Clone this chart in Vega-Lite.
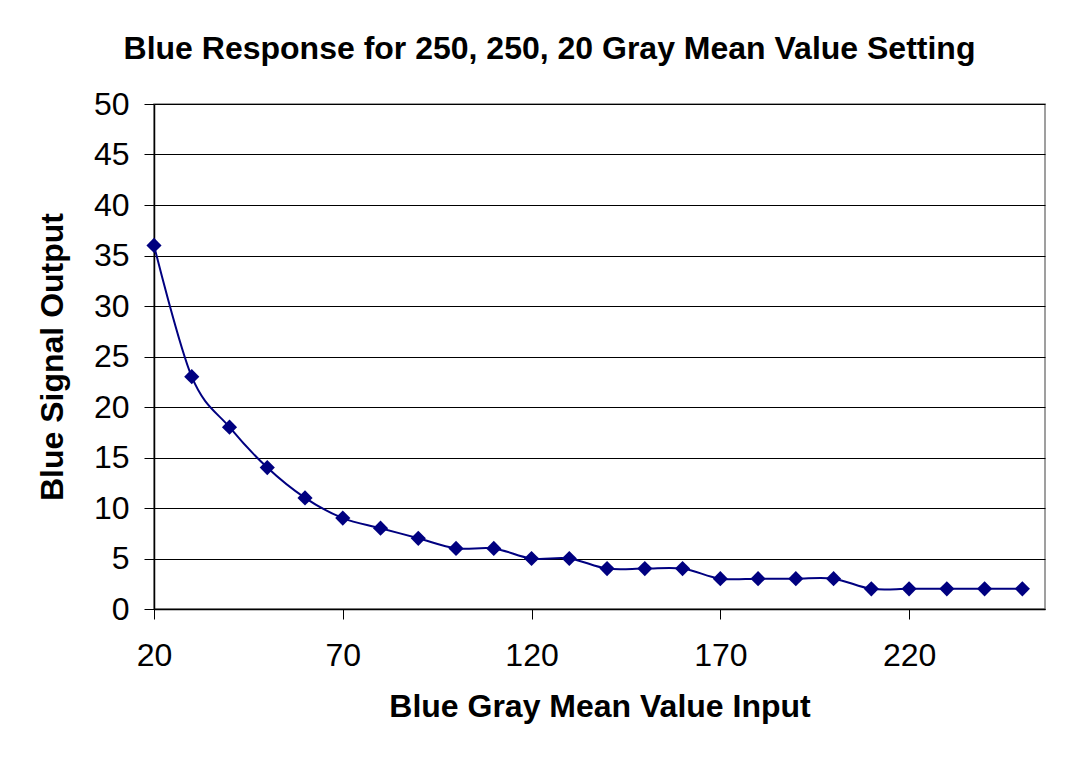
{
  "$schema": "https://vega.github.io/schema/vega-lite/v6.json",
  "width": 891,
  "height": 505,
  "autosize": {"type": "none"},
  "padding": {"left": 154, "top": 104, "right": 41, "bottom": 162},
  "background": "white",
  "config": {
    "font": "Liberation Sans",
    "view": {"stroke": "#808080", "strokeWidth": 1.5}
  },
  "title": {
    "text": "Blue Response for 250, 250, 20 Gray Mean Value Setting",
    "font": "Liberation Sans",
    "fontSize": 32,
    "fontWeight": "bold",
    "color": "black",
    "anchor": "middle",
    "frame": "group",
    "dx": -50,
    "offset": 22
  },
  "data": {
    "values": [
      {"input": 20, "output": 36},
      {"input": 30, "output": 23},
      {"input": 40, "output": 18},
      {"input": 50, "output": 14},
      {"input": 60, "output": 11},
      {"input": 70, "output": 9},
      {"input": 80, "output": 8},
      {"input": 90, "output": 7},
      {"input": 100, "output": 6},
      {"input": 110, "output": 6},
      {"input": 120, "output": 5},
      {"input": 130, "output": 5},
      {"input": 140, "output": 4},
      {"input": 150, "output": 4},
      {"input": 160, "output": 4},
      {"input": 170, "output": 3},
      {"input": 180, "output": 3},
      {"input": 190, "output": 3},
      {"input": 200, "output": 3},
      {"input": 210, "output": 2},
      {"input": 220, "output": 2},
      {"input": 230, "output": 2},
      {"input": 240, "output": 2},
      {"input": 250, "output": 2}
    ]
  },
  "encoding": {
    "x": {
      "field": "input",
      "type": "quantitative",
      "scale": {"domain": [20, 256], "nice": false, "zero": false},
      "axis": {
        "title": "Blue Gray Mean Value Input",
        "values": [20, 70, 120, 170, 220],
        "grid": false,
        "domainColor": "black",
        "domainWidth": 1.5,
        "tickColor": "black",
        "tickSize": 10,
        "labelFontSize": 32,
        "labelColor": "black",
        "labelPadding": 21,
        "labelFlush": false,
        "titleFontSize": 32,
        "titleFontWeight": "bold",
        "titleColor": "black",
        "titlePadding": 20
      }
    },
    "y": {
      "field": "output",
      "type": "quantitative",
      "scale": {"domain": [0, 50], "nice": false},
      "axis": {
        "title": "Blue Signal Output",
        "values": [0, 5, 10, 15, 20, 25, 30, 35, 40, 45, 50],
        "grid": true,
        "gridColor": "black",
        "gridOpacity": 1,
        "gridWidth": 1,
        "domainColor": "black",
        "domainWidth": 1.5,
        "tickColor": "black",
        "tickSize": 10,
        "labelFontSize": 32,
        "labelColor": "black",
        "labelPadding": 15,
        "labelFlush": false,
        "titleFontSize": 32,
        "titleFontWeight": "bold",
        "titleColor": "black",
        "titlePadding": 24
      }
    }
  },
  "layer": [
    {
      "mark": {"type": "line", "color": "#000080", "strokeWidth": 2, "interpolate": "cardinal"}
    },
    {
      "mark": {"type": "point", "shape": "diamond", "filled": true, "color": "#000080", "opacity": 1, "size": 230}
    }
  ]
}
